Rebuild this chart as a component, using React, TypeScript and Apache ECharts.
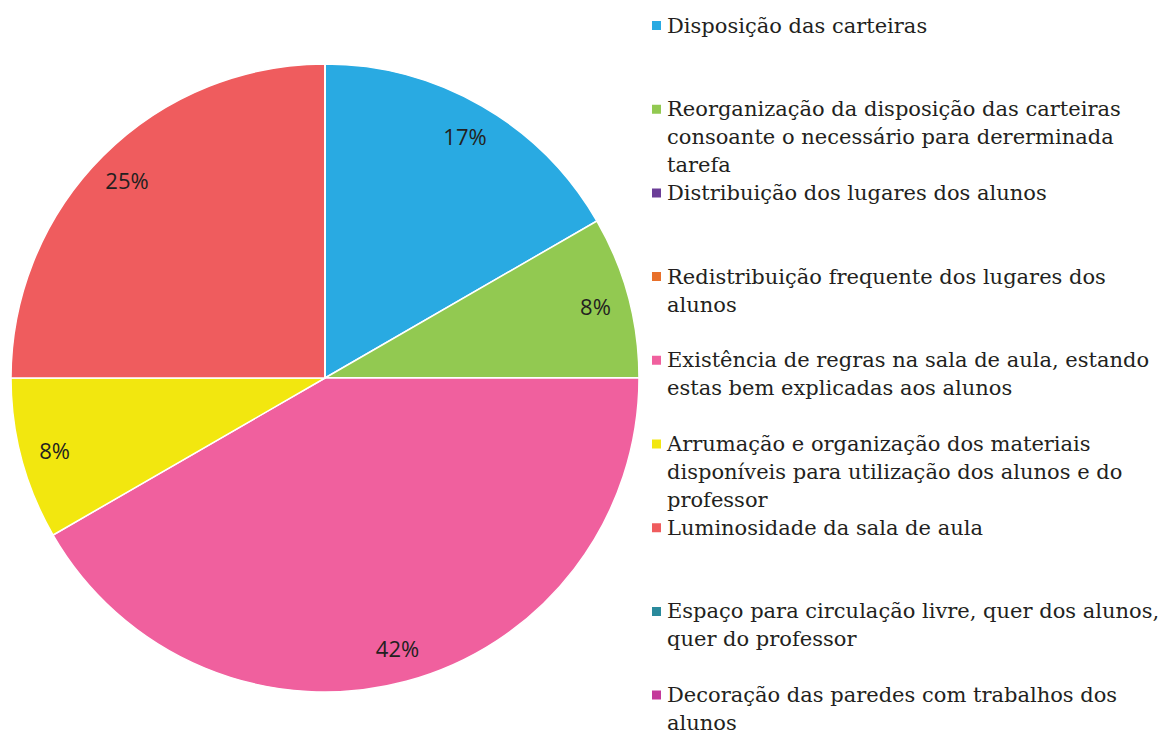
import React, { useEffect, useRef } from "react";
import * as echarts from "echarts";

const categories = [
  "Disposição das carteiras",
  "Reorganização da disposição das carteiras consoante o necessário para dererminada tarefa",
  "Distribuição dos lugares dos alunos",
  "Redistribuição frequente dos lugares dos alunos",
  "Existência de regras na sala de aula, estando estas bem explicadas aos alunos",
  "Arrumação e organização dos materiais disponíveis para utilização dos alunos e do professor",
  "Luminosidade da sala de aula",
  "Espaço para circulação livre, quer dos alunos, quer do professor",
  "Decoração das paredes com trabalhos dos alunos",
];

const legendLabels = [
  "Disposição das carteiras",
  "Reorganização da disposição das carteiras\nconsoante o necessário para dererminada\ntarefa",
  "Distribuição dos lugares dos alunos",
  "Redistribuição frequente dos lugares dos\nalunos",
  "Existência de regras na sala de aula, estando\nestas bem explicadas aos alunos",
  "Arrumação e organização dos materiais\ndisponíveis para utilização dos alunos e do\nprofessor",
  "Luminosidade da sala de aula",
  "Espaço para circulação livre, quer dos alunos,\nquer do professor",
  "Decoração das paredes com trabalhos dos\nalunos",
];

const values = [2, 1, 0, 0, 5, 1, 3, 0, 0];

const colors = [
  "#29AAE2",
  "#92C951",
  "#6B3D97",
  "#E8702A",
  "#F0609E",
  "#F2E70F",
  "#EF5C5E",
  "#2A8A9C",
  "#C4399A",
];

const SERIF = "DejaVu Serif";

export default function App() {
  const ref = useRef<HTMLDivElement>(null);
  useEffect(() => {
    document.body.style.margin = "0";
    const chart = echarts.init(ref.current!, null, { renderer: "svg" });
    const data = categories.map((name, i) => ({
      name,
      value: values[i],
      itemStyle: { color: colors[i] },
    }));
    const lh = 28;
    const legends = categories.map((name, i) => {
      const lines = legendLabels[i].split("\n").length;
      const prefix = "\n".repeat(lines - 1);
      const boxH = (2 * lines - 1) * lh;
      return {
        data: [name],
        orient: "vertical",
        left: 650,
        top: 25.5 + i * 83.7 - boxH / 2,
        padding: 0,
        itemWidth: 11,
        itemHeight: 11,
        itemGap: 0,
        icon: "rect",
        formatter: () => prefix + legendLabels[i],
        textStyle: {
          fontFamily: SERIF,
          fontSize: 21,
          lineHeight: lh,
          color: "#231f20",
        },
      };
    });
    chart.setOption({
      animation: false,
      backgroundColor: "#ffffff",
      legend: legends,
      series: [
        {
          type: "pie",
          center: [325, 378],
          radius: [0, 314],
          startAngle: 90,
          clockwise: true,
          data,
          label: { show: false },
          labelLine: { show: false },
          itemStyle: { borderColor: "#ffffff", borderWidth: 1.5 },
          emphasis: { disabled: true },
        },
        {
          type: "pie",
          center: [325, 378],
          radius: [240, 314],
          startAngle: 90,
          clockwise: true,
          silent: true,
          data: categories.map((name, i) => ({ name, value: values[i] })),
          itemStyle: { color: "rgba(0,0,0,0)", borderWidth: 0 },
          label: {
            show: true,
            position: "inside",
            fontFamily: "Open Sans",
            fontSize: 22,
            color: "#231f20",
            formatter: (p: any) => (p.value > 0 ? Math.round(p.percent) + "%" : ""),
          },
          labelLine: { show: false },
          emphasis: { disabled: true },
        },
      ],
    });
    return () => chart.dispose();
  }, []);
  return <div ref={ref} style={{ width: 1160, height: 738 }} />;
}
